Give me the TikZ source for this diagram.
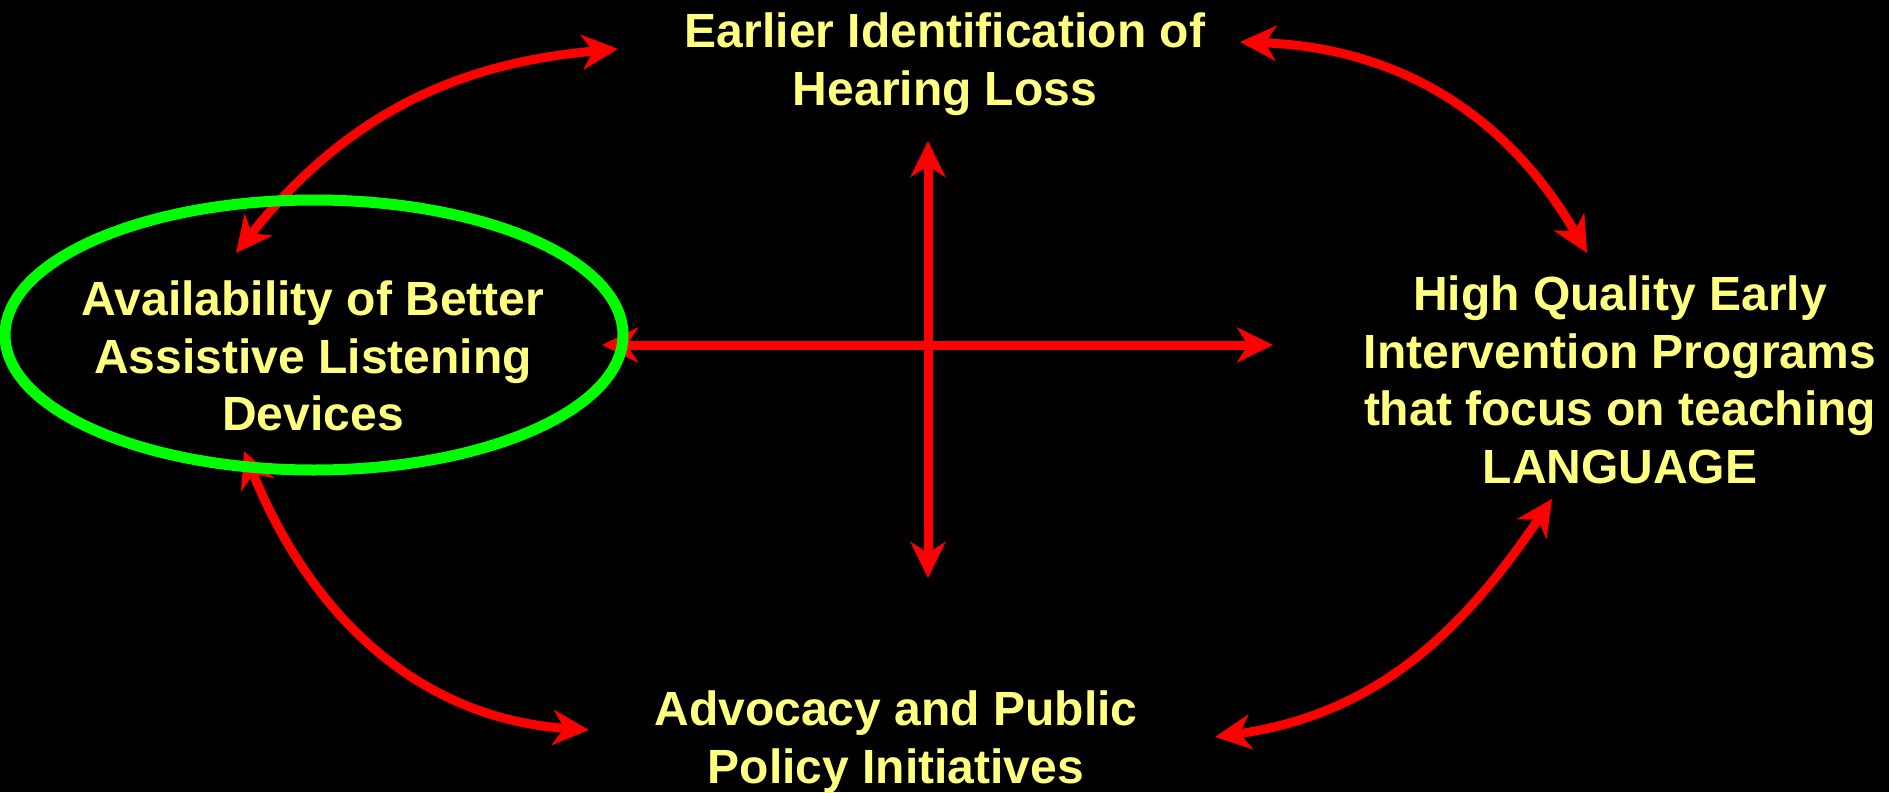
\documentclass[tikz,border=0pt]{standalone}
\usepackage{fontspec}
\setmainfont{Liberation Sans}
\usetikzlibrary{arrows.meta}
\definecolor{txt}{RGB}{255,255,128}
\definecolor{ringgreen}{RGB}{0,255,0}
\begin{document}
\begin{tikzpicture}[x=0.5pt,y=0.5pt,
  lbl/.style={text=txt, font=\fontsize{24pt}{28.75pt}\selectfont\bfseries, align=center, inner sep=0pt},
  link/.style={draw=red, line width=4.5pt, {Stealth[length=18pt,width=17.5pt,inset=5.5pt]}-{Stealth[length=18pt,width=17.5pt,inset=5.5pt]}},
  ring/.style={draw=ringgreen, line width=5.5pt}]
\fill[black] (0,0) rectangle (1889,-792);
\useasboundingbox (0,0) rectangle (1889,-792);

\node[lbl] (early) at (945,-64) {Earlier Identification of\\Hearing Loss};
\node[lbl] (devices) at (313,-356) {Availability of Better\\Assistive Listening\\Devices};
\node[lbl] (programs) at (1620,-380) {High Quality Early\\Intervention Programs\\that focus on teaching\\LANGUAGE};
\node[lbl] (advocacy) at (896,-742) {Advocacy and Public\\Policy Initiatives};

\coordinate (a1) at (236,-253); \coordinate (b1) at (618,-49);
\coordinate (c2) at (1240,-42); \coordinate (d2) at (1587,-253);
\coordinate (e3) at (244,-451); \coordinate (f3) at (589,-730);
\coordinate (g4) at (1215,-737); \coordinate (h4) at (1552,-499);
\coordinate (hl) at (602,-345); \coordinate (hr) at (1273,-345);
\coordinate (vt) at (928,-141); \coordinate (vb) at (928,-578);

\draw[link] (a1) to[out=51.5,in=185] (b1);
\draw[link] (c2) to[out=-2,in=120] (d2);
\draw[link] (e3) to[out=-68,in=176] (f3);
\draw[link] (g4) to[out=8,in=236] (h4);
\draw[link] (hl) -- (hr);
\draw[link] (vt) -- (vb);

\draw[ring] (314,-335) ellipse [x radius=309, y radius=135];
\end{tikzpicture}
\end{document}
